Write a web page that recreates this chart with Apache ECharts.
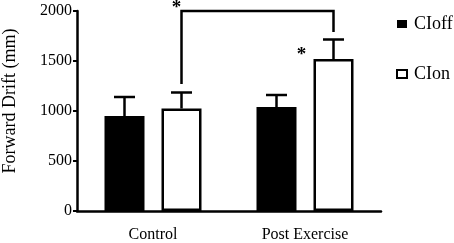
<!DOCTYPE html>
<html>
<head>
<meta charset="utf-8">
<script src="https://cdn.jsdelivr.net/npm/echarts@6/dist/echarts.min.js"></script>
<style>
  html, body { margin: 0; padding: 0; background: #fff; }
  #chart { width: 454px; height: 243px; }
</style>
</head>
<body>
<div id="chart"></div>
<script>
const categories = ["Control", "Post Exercise"];
const cioffValues = [950, 1040];
const cionValues = [1025, 1520];
const cioffErrTop = [1140, 1160];
const cionErrTop = [1185, 1715];
// significance bracket: left leg bottom, top, right leg bottom
const bracketValues = [1270, 2000, 1790];
const yTicks = [0, 500, 1000, 1500, 2000];

const FONT = "'Liberation Serif', 'Times New Roman', serif";
const BAR_W = 40;
const BAR_OFFSET = 28.5; // half of bar width + half of gap

const chart = echarts.init(document.getElementById("chart"));

// error bar drawn above one bar of the group
function errorBar(offset) {
  return function (params, api) {
    const base = api.coord([api.value(0), api.value(1)]);
    const top = api.coord([api.value(0), api.value(2)]);
    const x = base[0] + offset;
    const style = { stroke: "#000", lineWidth: 2.5 };
    return {
      type: "group",
      children: [
        { type: "line", shape: { x1: x, y1: base[1], x2: x, y2: top[1] }, style },
        { type: "line", shape: { x1: x - 10.5, y1: top[1], x2: x + 10.5, y2: top[1] }, style },
      ],
    };
  };
}

function bracketItem(params, api) {
  const left = api.coord([0, api.value(0)]);
  const top = api.coord([0, api.value(1)]);
  const right = api.coord([1, api.value(2)]);
  const x1 = left[0] + BAR_OFFSET;
  const x2 = right[0] + BAR_OFFSET;
  const starStyle = { text: "*", fill: "#000", font: "bold 19px " + FONT, align: "center", verticalAlign: "middle" };
  return {
    type: "group",
    children: [
      {
        type: "polyline",
        shape: { points: [[x1, left[1]], [x1, top[1]], [x2, top[1]], [x2, right[1]]] },
        style: { stroke: "#000", lineWidth: 2.5, fill: null },
      },
      { type: "text", x: x1 - 5, y: top[1] - 3, style: starStyle },
      { type: "text", x: x2 - 32, y: api.coord([1, 1600])[1] + 4, style: starStyle },
    ],
  };
}

const option = {
  animation: false,
  grid: { left: 77, right: 73, top: 11, bottom: 32, outerBoundsMode: "none", containLabel: false },
  legend: {
    orient: "vertical",
    left: 391,
    top: 10,
    itemGap: 32,
    itemWidth: 10,
    itemHeight: 8,
    icon: "rect",
    textStyle: { fontFamily: FONT, fontSize: 18, color: "#000", padding: [0, 0, 0, 2] },
    data: ["CIoff", "CIon"],
  },
  xAxis: {
    type: "category",
    data: categories,
    axisLine: { lineStyle: { color: "#000", width: 2.5 } },
    axisTick: { alignWithLabel: true, length: 4, lineStyle: { color: "#000", width: 2 } },
    axisLabel: { fontFamily: FONT, fontSize: 16, color: "#000", margin: 16 },
  },
  yAxis: {
    type: "value",
    min: yTicks[0],
    max: yTicks[yTicks.length - 1],
    interval: 500,
    name: "Forward Drift (mm)",
    nameLocation: "middle",
    nameGap: 58,
    nameTextStyle: { fontFamily: FONT, fontSize: 18, color: "#000", padding: [0, 0, 0, 20] },
    axisLine: { show: true, lineStyle: { color: "#000", width: 2.5 } },
    axisTick: { show: true, length: 4, lineStyle: { color: "#000", width: 2 } },
    axisLabel: { fontFamily: FONT, fontSize: 16, color: "#000", margin: 5, formatter: (v) => String(v) },
    splitLine: { show: false },
  },
  series: [
    {
      name: "CIoff",
      type: "bar",
      barWidth: BAR_W,
      barGap: "42.5%",
      data: cioffValues,
      itemStyle: { color: "#000" },
    },
    {
      name: "CIon",
      type: "bar",
      barWidth: BAR_W,
      data: cionValues,
      itemStyle: { color: "#fff", borderColor: "#000", borderWidth: 2.5 },
    },
    {
      type: "custom",
      renderItem: errorBar(-BAR_OFFSET),
      data: categories.map((c, i) => [i, cioffValues[i], cioffErrTop[i]]),
      z: 3,
    },
    {
      type: "custom",
      renderItem: errorBar(BAR_OFFSET),
      data: categories.map((c, i) => [i, cionValues[i], cionErrTop[i]]),
      z: 3,
    },
    {
      type: "custom",
      renderItem: bracketItem,
      clip: false,
      data: [bracketValues],
      z: 3,
    },
  ],
};

chart.setOption(option);
</script>
</body>
</html>
